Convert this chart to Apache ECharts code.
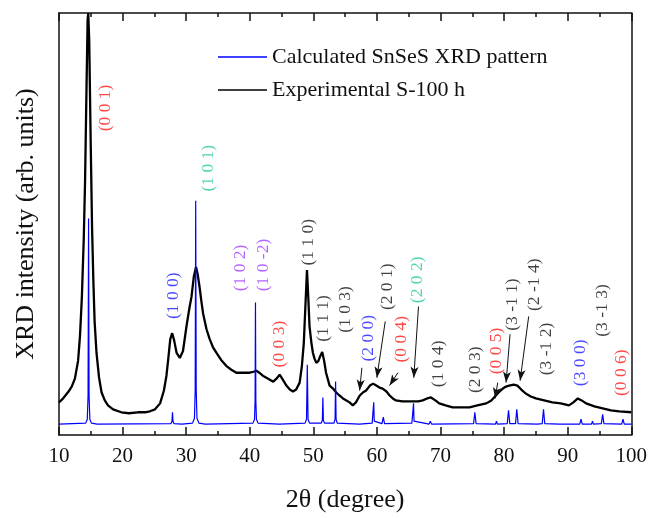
<!DOCTYPE html>
<html>
<head>
<meta charset="utf-8">
<script src="https://cdn.jsdelivr.net/npm/echarts@6/dist/echarts.min.js"></script>
<style>
html,body{margin:0;padding:0;background:#fff;}
#chart{width:650px;height:518px;}
</style>
</head>
<body>
<div id="chart"></div>
<script>
// ---- Data (2theta in degrees, intensity in arbitrary units) ----
var xTicks = [10, 20, 30, 40, 50, 60, 70, 80, 90, 100];

var calculatedName = 'Calculated SnSeS XRD pattern';
var experimentalName = 'Experimental S-100 h';

var calculated = [
  [10,11],
  [14.2,12],[14.45,16],[14.57,40],[14.65,219],[14.73,40],[14.85,16],[15.1,12],
  [16,11],
  [27.6,11.5],[27.77,14],[27.85,23],[27.93,14],[28.1,11.5],
  [29.35,11],[29.5,13],[29.65,11],
  [31.0,12],[31.3,17],[31.42,45],[31.5,237],[31.58,45],[31.7,17],[32.0,12],
  [33,11],
  [40.5,12],[40.75,16],[40.84,35],[40.9,134],[40.96,35],[41.05,16],[41.3,12],
  [44.65,11],[44.8,13],[44.95,11],
  [48.7,12],[48.93,16],[49.05,71],[49.17,16],[49.4,12],
  [51.25,12],[51.42,15],[51.5,38],[51.58,15],[51.75,12],
  [53.25,12],[53.42,16],[53.5,54],[53.58,16],[53.75,12],
  [57.25,11],[57.4,13],[57.55,11],
  [59.25,12],[59.42,14],[59.5,33],[59.58,14],[59.75,12],
  [60.8,11.5],[61.0,18],[61.2,11.5],
  [65.5,12],[65.68,14],[65.76,32],[65.84,14],[66.0,12],
  [68.2,11],[68.4,14],[68.6,11],
  [75.2,11.5],[75.4,23],[75.6,11.5],
  [78.65,11],[78.8,14],[78.95,11],
  [80.5,11.5],[80.7,25],[80.9,11.5],
  [81.8,11.5],[82.0,26],[82.2,11.5],
  [85.25,11],[85.4,13],[85.55,11],
  [86.0,11.5],[86.2,26],[86.4,11.5],
  [88.65,11],[88.8,12],[88.95,11],
  [91.9,11],[92.1,16],[92.3,11],
  [93.75,11],[93.9,14],[94.05,11],
  [95.3,11.5],[95.5,21],[95.7,11.5],
  [98.5,11],[98.7,16],[98.9,11],
  [100,11]
];

var experimental = [
  [10,33],[10.5,36],[11,40],[11.5,44],[12,49],[12.5,57],[13,75],[13.3,100],[13.6,140],
  [13.9,200],[14.1,257],[14.3,340],[14.5,420],[14.6,427],[14.75,400],[15.0,290],[15.2,210],
  [15.4,157],[15.6,115],[15.9,83],[16.3,58],[16.7,43],[17.2,35],[17.7,30],[18.5,26],
  [19.8,23],[21,22],[22.4,23],[23.5,23],[24.3,24],[25.1,26],[25.9,32],[26.5,45],[26.9,60],
  [27.2,78],[27.5,97],[27.8,103],[28.1,96],[28.5,83],[29.0,78],[29.5,85],[30.05,110],
  [30.5,128],[30.84,140],[31.2,160],[31.55,170],[31.8,163],[32.1,150],[32.4,135],
  [32.66,123],[33.2,107],[33.7,97],[34.2,89],[34.77,83],[35.5,76],[36.3,70],[37.1,66],
  [37.9,63],[39,63],[40.0,63],[40.6,64],[41.05,65],[41.5,63],[42.05,60],[42.9,57],
  [43.7,54],[44.2,57],[44.7,61],[45.2,56],[45.76,50],[46.3,46],[46.8,44],[47.3,46],
  [47.85,53],[48.2,70],[48.5,93],[48.75,130],[49.0,167],[49.2,140],[49.4,110],[49.7,93],
  [49.94,83],[50.2,77],[50.47,73],[50.8,75],[51.1,80],[51.4,84],[51.7,75],[52.0,63],
  [52.56,50],[53.1,47],[53.6,43],[54.1,40],[54.66,37],[55.2,35],[55.7,33],[56.2,30],
  [56.7,33],[57.3,40],[57.8,43],[58.3,45],[58.9,50],[59.4,52],[59.9,50],[60.4,48],
  [60.9,47],[61.5,44],[62.0,40],[62.5,37],[63.0,35],[64,34],[65.0,34],[65.6,34],
  [66.5,34],[67.2,35],[67.9,37],[68.5,38],[69.2,35],[69.8,32],[70.8,30],[71.9,28],
  [73.2,28],[74.55,28],[75.8,30],[77.2,32],[78,35],[78.7,40],[79.3,44],[79.8,47],
  [80.3,49],[80.8,50],[81.5,51],[82.1,50],[82.7,46],[83.4,42],[84.2,39],[85.0,37],
  [86.3,35],[87.6,33],[88.9,32],[90.2,30],[90.9,33],[91.6,37],[92.2,35],[92.9,32],
  [94.2,29],[95.5,27],[96.8,25],[98.1,24],[100,23]
];

// Miller-index annotations: [text, 2theta, intensity (label centre), family]
var peakLabels = [
  ['(0 0 1)', 17.33, 331, 'red'],
  ['(1 0 1)', 33.45, 270, 'teal'],
  ['(1 0 0)', 27.95, 141, 'blue'],
  ['(1 0 2)', 38.53, 169, 'purple'],
  ['(1 0 -2)', 42.1, 172, 'purple'],
  ['(0 0 3)', 44.6, 92, 'red'],
  ['(1 1 0)', 49.16, 195, 'black'],
  ['(1 1 1)', 51.6, 118, 'black'],
  ['(1 0 3)', 55.0, 127, 'black'],
  ['(2 0 0)', 58.6, 98, 'blue'],
  ['(2 0 1)', 61.7, 150, 'black'],
  ['(0 0 4)', 63.8, 97, 'red'],
  ['(2 0 2)', 66.3, 157, 'teal'],
  ['(1 0 4)', 69.7, 72, 'black'],
  ['(2 0 3)', 75.45, 66, 'black'],
  ['(0 0 5)', 78.75, 85, 'red'],
  ['(3 -1 1)', 81.35, 132, 'black'],
  ['(2 -1 4)', 84.76, 152, 'black'],
  ['(3 -1 2)', 86.6, 87, 'black'],
  ['(3 0 0)', 92.0, 73, 'blue'],
  ['(3 -1 3)', 95.4, 126, 'black'],
  ['(0 0 6)', 98.4, 63, 'red']
];

// Arrows: [from 2theta, from intensity, to 2theta, to intensity]
var arrows = [
  [57.64, 68, 57.28, 45],
  [61.31, 115, 59.99, 58],
  [63.29, 63, 61.99, 50],
  [66.54, 130, 65.80, 58],
  [79.0, 53, 78.59, 37],
  [80.94, 102, 80.31, 53],
  [83.87, 120, 82.52, 55]
];

// ---- Chart ----
var palette = {red:'#ff1a1a', teal:'#22c9a0', blue:'#1a1aff', purple:'#a040ff', black:'#111111'};
var serif = '"Liberation Serif", "DejaVu Serif", serif';

var chart = echarts.init(document.getElementById('chart'), null, {renderer:'canvas'});

var labelData = peakLabels.map(function(p){
  return {
    value:[p[1], p[2]], name:p[0],
    label:{color: palette[p[3]]}
  };
});

var arrowData = arrows.map(function(a){
  return [{coord:[a[0], a[1]]}, {coord:[a[2], a[3]]}];
});

var option = {
  animation:false,
  backgroundColor:'#ffffff',
  grid:{left:59, right:18, top:13, bottom:78, containLabel:false},
  legend:{
    orient:'vertical', left:218, top:46, padding:0,
    icon:'rect', itemWidth:49, itemHeight:1.5, itemGap:11,
    textStyle:{fontFamily:serif, fontSize:22, color:'#111', lineHeight:22},
    data:[calculatedName, experimentalName]
  },
  xAxis:[{
    type:'value', min:10, max:100, interval:10, position:'bottom',
    axisLine:{show:true, onZero:false, lineStyle:{color:'#111', width:1.5}},
    axisTick:{show:true, inside:true, length:8, lineStyle:{color:'#111', width:1.5}},
    minorTick:{show:true, splitNumber:2, length:4, lineStyle:{color:'#111', width:1.5}},
    splitLine:{show:false},
    axisLabel:{fontFamily:serif, fontSize:21, color:'#111', margin:11},
    name:'2\u03b8 (degree)', nameLocation:'middle', nameGap:52,
    nameTextStyle:{fontFamily:serif, fontSize:26, color:'#111'}
  },{
    type:'value', min:10, max:100, interval:10, position:'top',
    axisLine:{show:true, onZero:false, lineStyle:{color:'#111', width:1.5}},
    axisTick:{show:true, inside:true, length:8, lineStyle:{color:'#111', width:1.5}},
    minorTick:{show:true, splitNumber:2, length:4, lineStyle:{color:'#111', width:1.5}},
    splitLine:{show:false},
    axisLabel:{show:false}
  }],
  yAxis:[{
    type:'value', min:0, max:427, position:'left',
    axisLine:{show:true, onZero:false, lineStyle:{color:'#111', width:1.5}},
    axisTick:{show:false}, axisLabel:{show:false}, splitLine:{show:false},
    name:'XRD intensity (arb. units)', nameLocation:'middle', nameGap:20,
    nameTextStyle:{fontFamily:serif, fontSize:26, color:'#111'}
  },{
    type:'value', min:0, max:427, position:'right',
    axisLine:{show:true, onZero:false, lineStyle:{color:'#111', width:1.5}},
    axisTick:{show:false}, axisLabel:{show:false}, splitLine:{show:false}
  }],
  series:[{
    name:calculatedName, type:'line', data:calculated,
    symbol:'none', showSymbol:false, clip:true,
    lineStyle:{color:'#0000ff', width:1.2}, itemStyle:{color:'#0000ff'}, z:3
  },{
    name:experimentalName, type:'line', data:experimental,
    symbol:'none', showSymbol:false, clip:true,
    lineStyle:{color:'#000000', width:2.3}, itemStyle:{color:'#000000'}, z:2,
    markLine:{
      silent:true, symbol:['none','arrow'], symbolSize:[6,11],
      lineStyle:{color:'#111', width:1, type:'solid'},
      label:{show:false},
      data:arrowData
    }
  },{
    name:'labels', type:'scatter', data:labelData,
    symbolSize:0, silent:true, z:5,
    label:{show:true, position:'inside', rotate:90, formatter:'{b}',
      fontFamily:serif, fontSize:17.5, align:'center', verticalAlign:'middle'}
  }]
};
chart.setOption(option);
</script>
</body>
</html>
